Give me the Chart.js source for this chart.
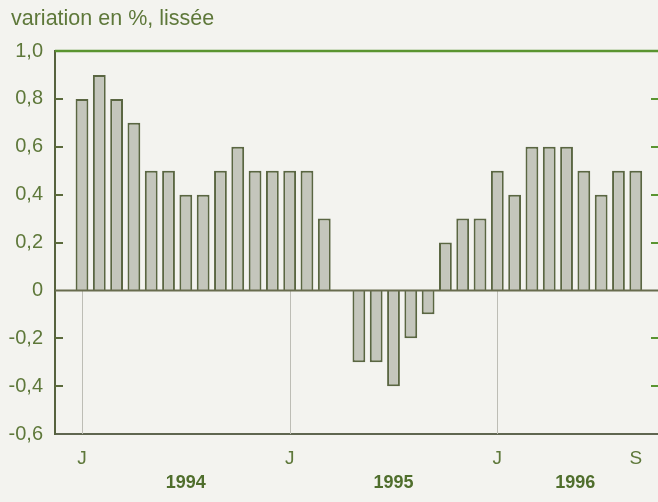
<!DOCTYPE html>
<html>
<head>
<meta charset="utf-8">
<script src="https://cdn.jsdelivr.net/npm/chart.js@4"></script>
<style>
  html, body { margin: 0; padding: 0; background: #f3f3ef; overflow: hidden; }
  canvas { display: block; }
</style>
</head>
<body>
<canvas id="chart" width="662" height="502"></canvas>
<script>
// monthly values, Jan 1994 - Sep 1996
const months = ['J','F','M','A','M','J','J','A','S','O','N','D',
                'J','F','M','A','M','J','J','A','S','O','N','D',
                'J','F','M','A','M','J','J','A','S'];
const values = [0.8, 0.9, 0.8, 0.7, 0.5, 0.5, 0.4, 0.4, 0.5, 0.6, 0.5, 0.5,
                0.5, 0.5, 0.3, 0, -0.3, -0.3, -0.4, -0.2, -0.1, 0.2, 0.3, 0.3,
                0.5, 0.4, 0.6, 0.6, 0.6, 0.5, 0.4, 0.5, 0.5];
const years = ['1994', '1995', '1996'];
const labelledMonths = [0, 12, 24, 32];

const textColor = '#5e783a';
const font = "'Liberation Sans', Arial, sans-serif";

// year label sits in the middle of its months
const yearTicks = years.map((y, i) => {
  const start = i * 12;
  const end = Math.min(start + 12, months.length);
  return { value: (start + end) / 2 };
});

const framePlugin = {
  id: 'frame',
  beforeDatasetsDraw(chart) {
    const { ctx, chartArea, scales } = chart;
    const y0 = scales.y.getPixelForValue(0);
    ctx.save();
    ctx.strokeStyle = '#bdbdb5';
    ctx.lineWidth = 1;
    months.forEach((m, i) => {
      if (i % 12 !== 0) return;
      const x = Math.round(scales.x.getPixelForValue(i)) + 0.5;
      ctx.beginPath();
      ctx.moveTo(x, y0);
      ctx.lineTo(x, chartArea.bottom);
      ctx.stroke();
    });
    ctx.restore();
  },
  afterDatasetsDraw(chart) {
    const { ctx, chartArea, scales } = chart;
    const y0 = scales.y.getPixelForValue(0);
    ctx.save();
    // zero line
    ctx.strokeStyle = '#686c4e';
    ctx.lineWidth = 2;
    ctx.beginPath();
    ctx.moveTo(chartArea.left, y0);
    ctx.lineTo(chartArea.right, y0);
    ctx.stroke();
    // top frame
    ctx.strokeStyle = '#5a9430';
    ctx.lineWidth = 2.5;
    ctx.beginPath();
    ctx.moveTo(chartArea.left, chartArea.top);
    ctx.lineTo(chartArea.right, chartArea.top);
    ctx.stroke();
    // inward ticks on both sides
    scales.y.ticks.forEach(t => {
      if (t.value === 0 || t.value === scales.y.min || t.value === scales.y.max) return;
      const y = Math.round(scales.y.getPixelForValue(t.value));
      ctx.lineWidth = 2;
      ctx.strokeStyle = '#5b6a3c';
      ctx.beginPath();
      ctx.moveTo(chartArea.left, y);
      ctx.lineTo(chartArea.left + 8, y);
      ctx.stroke();
      ctx.strokeStyle = '#5a9430';
      ctx.beginPath();
      ctx.moveTo(chartArea.right - 9, y);
      ctx.lineTo(chartArea.right, y);
      ctx.stroke();
    });
    ctx.restore();
  },
  afterDraw(chart) {
    const { ctx } = chart;
    ctx.save();
    ctx.fillStyle = textColor;
    ctx.font = '21.5px ' + font;
    ctx.textBaseline = 'alphabetic';
    ctx.fillText('variation en %, lissée', 11, 25);
    ctx.restore();
  }
};

new Chart(document.getElementById('chart'), {
  type: 'bar',
  data: {
    datasets: [{
      data: values.map((v, i) => ({ x: i, y: v })),
      backgroundColor: '#c4c6bc',
      borderColor: '#5a6642',
      borderWidth: 2,
      categoryPercentage: 1,
      barPercentage: 0.74,
      xAxisID: 'x',
      yAxisID: 'y'
    }]
  },
  options: {
    responsive: false,
    animation: false,
    devicePixelRatio: 1,
    layout: { padding: { top: 51, right: 2, left: 0, bottom: 0 } },
    plugins: { legend: { display: false }, tooltip: { enabled: false } },
    scales: {
      x: {
        type: 'linear',
        position: 'bottom',
        offset: false,
        min: -1.56,
        max: 33.4,
        grid: { display: false, drawTicks: false },
        border: { display: true, color: '#5f6650', width: 2 },
        afterBuildTicks: s => { s.ticks = labelledMonths.map(v => ({ value: v })); },
        afterFit: s => { s.height = 36; },
        ticks: {
          autoSkip: false,
          maxRotation: 0,
          padding: 13,
          color: textColor,
          font: { family: font, size: 19 },
          callback: v => months[v]
        }
      },
      x2: {
        type: 'linear',
        position: 'bottom',
        offset: false,
        min: -1.56,
        max: 33.4,
        grid: { display: false, drawTicks: false },
        border: { display: false },
        afterBuildTicks: s => { s.ticks = yearTicks.map(t => ({ value: t.value })); },
        afterFit: s => { s.height = 32; },
        ticks: {
          autoSkip: false,
          maxRotation: 0,
          padding: 2,
          color: '#4f6e2c',
          font: { family: font, size: 18, weight: 'bold' },
          callback: (v, i) => years[i]
        }
      },
      y: {
        min: -0.6,
        max: 1.0,
        grid: { display: false, drawTicks: false },
        border: { display: true, color: '#56623e', width: 2 },
        afterFit: s => { s.width = 55; },
        ticks: {
          stepSize: 0.2,
          padding: 12,
          color: textColor,
          font: { family: font, size: 20 },
          callback: v => {
            const r = Math.round(v * 10) / 10;
            if (r === 0) return '0';
            return r.toFixed(1).replace('.', ',');
          }
        }
      }
    }
  },
  plugins: [framePlugin]
});
</script>
</body>
</html>
